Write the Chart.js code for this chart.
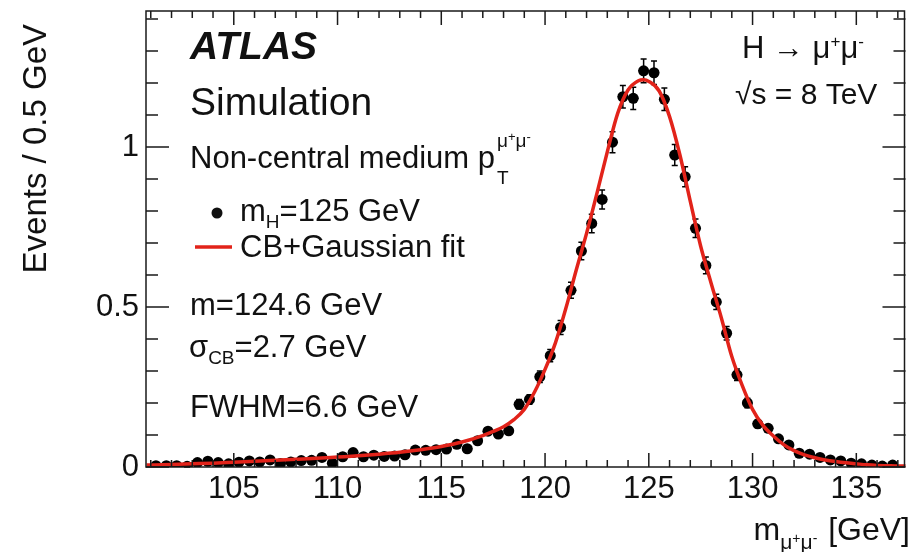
<!DOCTYPE html>
<html>
<head>
<meta charset="utf-8">
<script src="https://cdn.jsdelivr.net/npm/chart.js@4.4.0/dist/chart.umd.min.js"></script>
<style>
  html, body { margin: 0; padding: 0; background: #fff; }
  #wrap { width: 911px; height: 552px; position: relative; }
</style>
</head>
<body>
<div id="wrap"><canvas id="massChart" width="911" height="552"></canvas></div>
<script>
// bin centres (0.5 GeV bins)
const massBins = [
  101.25, 101.75, 102.25, 102.75, 103.25, 103.75, 104.25, 104.75, 105.25, 105.75,
  106.25, 106.75, 107.25, 107.75, 108.25, 108.75, 109.25, 109.75, 110.25, 110.75,
  111.25, 111.75, 112.25, 112.75, 113.25, 113.75, 114.25, 114.75, 115.25, 115.75,
  116.25, 116.75, 117.25, 117.75, 118.25, 118.75, 119.25, 119.75, 120.25, 120.75,
  121.25, 121.75, 122.25, 122.75, 123.25, 123.75, 124.25, 124.75, 125.25, 125.75,
  126.25, 126.75, 127.25, 127.75, 128.25, 128.75, 129.25, 129.75, 130.25, 130.75,
  131.25, 131.75, 132.25, 132.75, 133.25, 133.75, 134.25, 134.75, 135.25, 135.75,
  136.25, 136.75
];
// simulated events per bin (mH = 125 GeV)
const eventsMC = [
  0.004, 0.004, 0.004, 0.002, 0.014, 0.018, 0.014, 0.010, 0.015, 0.019,
  0.016, 0.022, 0.011, 0.016, 0.020, 0.021, 0.030, 0.012, 0.032, 0.045,
  0.032, 0.037, 0.033, 0.034, 0.038, 0.053, 0.052, 0.054, 0.056, 0.071,
  0.057, 0.082, 0.112, 0.103, 0.113, 0.196, 0.211, 0.282, 0.348, 0.436,
  0.552, 0.675, 0.761, 0.836, 1.015, 1.157, 1.152, 1.238, 1.232, 1.149,
  0.975, 0.907, 0.746, 0.630, 0.516, 0.418, 0.288, 0.200, 0.135, 0.121,
  0.088, 0.069, 0.043, 0.040, 0.030, 0.022, 0.019, 0.012, 0.010, 0.006,
  0.003, 0.006
];
// statistical error per bin
const eventsErr = [
  0.002, 0.002, 0.002, 0.002, 0.004, 0.004, 0.004, 0.003, 0.004, 0.005,
  0.004, 0.005, 0.003, 0.004, 0.005, 0.005, 0.006, 0.004, 0.006, 0.007,
  0.006, 0.006, 0.006, 0.006, 0.006, 0.008, 0.008, 0.008, 0.008, 0.009,
  0.008, 0.009, 0.011, 0.011, 0.011, 0.015, 0.015, 0.018, 0.019, 0.022,
  0.025, 0.027, 0.029, 0.030, 0.033, 0.035, 0.035, 0.037, 0.037, 0.035,
  0.033, 0.031, 0.029, 0.026, 0.024, 0.021, 0.018, 0.015, 0.012, 0.011,
  0.010, 0.009, 0.007, 0.007, 0.006, 0.005, 0.005, 0.004, 0.003, 0.003,
  0.002, 0.003
];
// CB+Gaussian fit curve
const fitMass = [
  100.8, 102, 103, 104, 105, 106, 107, 108, 109, 110, 111, 112, 113, 114, 115, 116,
  117, 117.5, 118, 118.5, 119, 119.5, 120, 120.5, 121, 121.5, 122, 122.5, 123, 123.5,
  124, 124.5, 124.75, 125, 125.5, 126, 126.5, 127, 127.5, 128, 128.5, 129, 129.5, 130,
  130.5, 131, 131.5, 132, 132.5, 133, 133.5, 134, 134.5, 135, 135.5, 136, 136.5, 137, 137.4
];
const fitValues = [
  0.006, 0.008, 0.010, 0.012, 0.015, 0.018, 0.021, 0.024, 0.027, 0.031, 0.035, 0.040, 0.046, 0.054, 0.064, 0.078,
  0.098, 0.111, 0.126, 0.148, 0.180, 0.235, 0.305, 0.388, 0.495, 0.615, 0.730, 0.855, 0.985, 1.105,
  1.178, 1.207, 1.210, 1.205, 1.175, 1.095, 0.975, 0.830, 0.690, 0.575, 0.465, 0.345, 0.255, 0.180,
  0.130, 0.097, 0.070, 0.051, 0.038, 0.029, 0.022, 0.017, 0.013, 0.010, 0.007, 0.005, 0.004, 0.003, 0.003
];
// axis ticks
const xMajorTicks = [105, 110, 115, 120, 125, 130, 135];
const xMinorTicks = [101, 102, 103, 104, 106, 107, 108, 109, 111, 112, 113, 114, 116, 117, 118, 119,
                     121, 122, 123, 124, 126, 127, 128, 129, 131, 132, 133, 134, 136, 137];
const yMajorTicks = [0, 0.5, 1];
const yMinorTicks = [0.1, 0.2, 0.3, 0.4, 0.6, 0.7, 0.8, 0.9, 1.1, 1.2, 1.3, 1.4];

const FONT = '"Liberation Sans", Arial, Helvetica, sans-serif';
const RED = '#e2231a';

function f(size, style) {
    return (style ? style + ' ' : '') + size + 'px ' + FONT;
}

// draws a run of text pieces (for sub / superscripts)
function drawParts(ctx, x, y, parts) {
    let cx = x;
    parts.forEach(p => {
        ctx.font = f(p.size, p.style);
        ctx.fillText(p.t, cx, y + (p.dy || 0));
        cx += ctx.measureText(p.t).width + (p.gap || 0);
    });
    return cx;
}
function partsWidth(ctx, parts) {
    let w = 0;
    parts.forEach(p => { ctx.font = f(p.size, p.style); w += ctx.measureText(p.t).width + (p.gap || 0); });
    return w;
}

// error bars under the markers
const errorBars = {
    id: 'errorBars',
    beforeDatasetsDraw(chart) {
        const ctx = chart.ctx, xs = chart.scales.x, ys = chart.scales.y;
        ctx.save();
        ctx.strokeStyle = '#000';
        ctx.lineWidth = 1.5;
        massBins.forEach((m, i) => {
            const px = xs.getPixelForValue(m);
            const y0 = ys.getPixelForValue(eventsMC[i] - eventsErr[i]);
            const y1 = ys.getPixelForValue(eventsMC[i] + eventsErr[i]);
            const xl = xs.getPixelForValue(m - 0.25), xr = xs.getPixelForValue(m + 0.25);
            const py = ys.getPixelForValue(eventsMC[i]);
            ctx.beginPath();
            ctx.moveTo(px, y0); ctx.lineTo(px, y1);
            ctx.moveTo(xl, py); ctx.lineTo(xr, py);
            // small caps
            ctx.moveTo(px - 3, y0); ctx.lineTo(px + 3, y0);
            ctx.moveTo(px - 3, y1); ctx.lineTo(px + 3, y1);
            ctx.stroke();
        });
        ctx.restore();
    }
};

// ROOT style frame with inward ticks, plus all the labels
const atlasFrame = {
    id: 'atlasFrame',
    afterDraw(chart) {
        const ctx = chart.ctx, a = chart.chartArea, xs = chart.scales.x, ys = chart.scales.y;
        ctx.save();
        ctx.strokeStyle = '#1a1a1a';
        ctx.lineWidth = 1.5;
        ctx.strokeRect(a.left, a.top, a.right - a.left - 1, a.bottom - a.top);

        ctx.beginPath();
        const xt = (v, len) => {
            const p = xs.getPixelForValue(v);
            ctx.moveTo(p, a.bottom); ctx.lineTo(p, a.bottom - len);
            ctx.moveTo(p, a.top); ctx.lineTo(p, a.top + len);
        };
        const yt = (v, len) => {
            const p = ys.getPixelForValue(v);
            ctx.moveTo(a.left, p); ctx.lineTo(a.left + len, p);
            ctx.moveTo(a.right, p); ctx.lineTo(a.right - len, p);
        };
        xMajorTicks.forEach(v => xt(v, 14));
        xMinorTicks.forEach(v => xt(v, 7));
        yMajorTicks.forEach(v => yt(v, 23));
        yMinorTicks.forEach(v => yt(v, 12));
        ctx.stroke();

        ctx.fillStyle = '#111';
        ctx.textAlign = 'left';
        ctx.textBaseline = 'alphabetic';

        // ATLAS label
        ctx.font = f(39, 'italic bold');
        ctx.fillText('ATLAS', 190, 59);
        ctx.font = f(39);
        ctx.fillText('Simulation', 190, 115);

        // category
        let cx = drawParts(ctx, 190, 168, [{ t: 'Non-central medium p', size: 31 }]);
        drawParts(ctx, cx + 2, 147, [
            { t: 'μ', size: 19 }, { t: '+', size: 13, dy: -6 }, { t: 'μ', size: 19 }, { t: '-', size: 13, dy: -6 }
        ]);
        drawParts(ctx, cx + 2, 184, [{ t: 'T', size: 19 }]);

        // legend
        ctx.beginPath();
        ctx.arc(217, 213, 5.5, 0, Math.PI * 2);
        ctx.fill();
        drawParts(ctx, 240, 221, [
            { t: 'm', size: 31 }, { t: 'H', size: 19, dy: 7 }, { t: '=125 GeV', size: 31 }
        ]);
        ctx.strokeStyle = RED;
        ctx.lineWidth = 3.5;
        ctx.beginPath();
        ctx.moveTo(195, 247); ctx.lineTo(232, 247);
        ctx.stroke();
        drawParts(ctx, 240, 257, [{ t: 'CB+Gaussian fit', size: 31 }]);

        // fit results
        drawParts(ctx, 190, 315, [{ t: 'm=124.6 GeV', size: 31 }]);
        drawParts(ctx, 189, 357, [
            { t: 'σ', size: 31 }, { t: 'CB', size: 19, dy: 7 }, { t: '=2.7 GeV', size: 31 }
        ]);
        drawParts(ctx, 190, 417, [{ t: 'FWHM=6.6 GeV', size: 31 }]);

        // process / energy
        drawParts(ctx, 742, 58, [
            { t: 'H → μ', size: 31 }, { t: '+', size: 17, dy: -11 }, { t: 'μ', size: 31 }, { t: '-', size: 17, dy: -11 }
        ]);
        drawParts(ctx, 735, 104, [{ t: '√s = 8 TeV', size: 30 }]);

        // x axis title, right aligned
        const xTitle = [
            { t: 'm', size: 32 },
            { t: 'μ', size: 21, dy: 9 }, { t: '+', size: 14, dy: 3 }, { t: 'μ', size: 21, dy: 9 }, { t: '-', size: 14, dy: 3, gap: 2 },
            { t: ' [GeV]', size: 32 }
        ];
        drawParts(ctx, 910 - partsWidth(ctx, xTitle), 540, xTitle);

        // y axis title, rotated
        ctx.save();
        ctx.translate(46, 24);
        ctx.rotate(-Math.PI / 2);
        ctx.textAlign = 'right';
        ctx.font = f(33);
        ctx.fillText('Events / 0.5 GeV', 0, 0);
        ctx.restore();

        ctx.restore();
    }
};

const pointData = massBins.map((m, i) => ({ x: m, y: eventsMC[i] }));
const fitData = fitMass.map((m, i) => ({ x: m, y: fitValues[i] }));

new Chart(document.getElementById('massChart'), {
    type: 'scatter',
    data: {
        datasets: [
            {
                type: 'line',
                label: 'CB+Gaussian fit',
                data: fitData,
                borderColor: RED,
                borderWidth: 3.5,
                pointRadius: 0,
                cubicInterpolationMode: 'monotone',
                fill: false,
                order: 0
            },
            {
                label: 'mH=125 GeV',
                data: pointData,
                backgroundColor: '#000',
                borderColor: '#000',
                pointRadius: 5.5,
                pointBorderWidth: 0,
                order: 1
            }
        ]
    },
    options: {
        responsive: false,
        animation: false,
        layout: { padding: { top: 11, right: 0, left: 0, bottom: 0 } },
        plugins: {
            legend: { display: false },
            tooltip: { enabled: false }
        },
        scales: {
            x: {
                type: 'linear',
                min: 100.77,
                max: 137.37,
                grid: { display: false, drawTicks: false },
                border: { display: false },
                afterFit: s => { s.height = 85; s.paddingLeft = 0; s.paddingRight = 0; },
                afterBuildTicks: s => { s.ticks = xMajorTicks.map(v => ({ value: v })); },
                ticks: {
                    color: '#111',
                    font: { family: FONT, size: 31 },
                    padding: 4,
                    maxRotation: 0,
                    autoSkip: false
                }
            },
            y: {
                type: 'linear',
                min: 0,
                max: 1.425,
                grid: { display: false, drawTicks: false },
                border: { display: false },
                afterFit: s => { s.width = 146; s.paddingTop = 0; s.paddingBottom = 0; },
                afterBuildTicks: s => { s.ticks = yMajorTicks.map(v => ({ value: v })); },
                ticks: {
                    color: '#111',
                    font: { family: FONT, size: 31 },
                    padding: 7,
                    callback: v => String(v)
                }
            }
        }
    },
    plugins: [errorBars, atlasFrame]
});
</script>
</body>
</html>
